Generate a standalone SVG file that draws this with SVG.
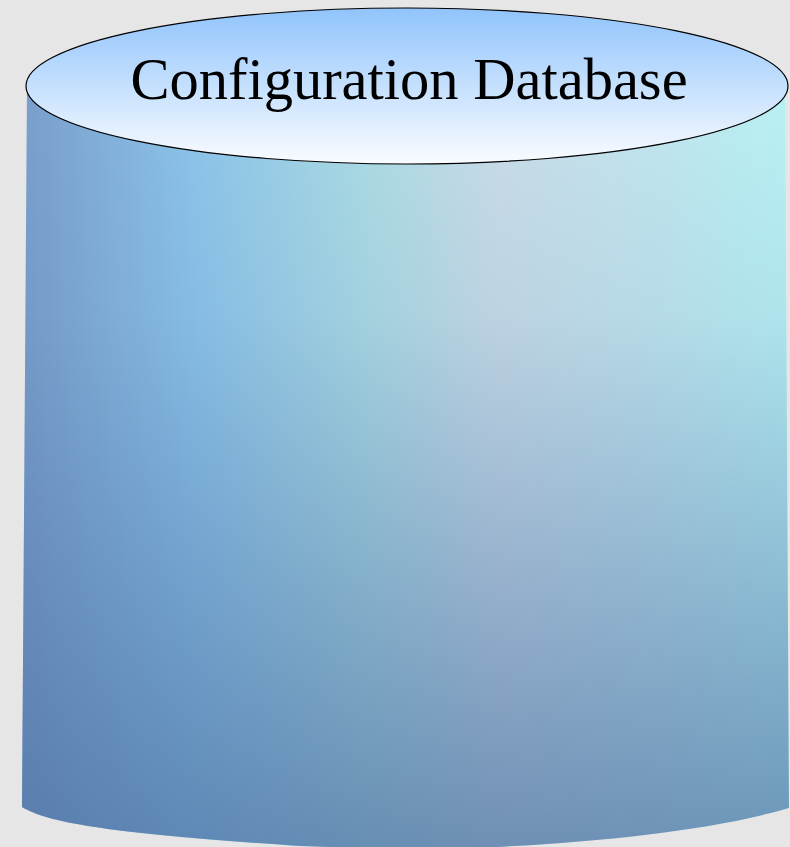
<svg xmlns="http://www.w3.org/2000/svg" width="790" height="847" viewBox="0 0 790 847">
  <defs>
    <linearGradient id="bodyH" x1="0" y1="0" x2="1" y2="0">
      <stop offset="0" stop-color="#7a9ecb"/>
      <stop offset="0.22" stop-color="#8cc4ea"/>
      <stop offset="0.45" stop-color="#acdce4"/>
      <stop offset="0.62" stop-color="#cadde8"/>
      <stop offset="0.82" stop-color="#c2e6ee"/>
      <stop offset="1" stop-color="#b8f2f4"/>
    </linearGradient>
    <linearGradient id="bodyV" x1="0" y1="0" x2="0" y2="1">
      <stop offset="0" stop-color="#4a70a8" stop-opacity="0"/>
      <stop offset="0.3" stop-color="#4a70a8" stop-opacity="0.1"/>
      <stop offset="1" stop-color="#4c70a0" stop-opacity="0.72"/>
    </linearGradient>
    <linearGradient id="topG" x1="0" y1="0" x2="0" y2="1">
      <stop offset="0" stop-color="#90c4fc"/>
      <stop offset="1" stop-color="#fafcff"/>
    </linearGradient>
  </defs>
  <style>
    .txt { font-family: "Liberation Serif", "Times New Roman", "DejaVu Serif", serif; font-size: 58.5px; fill: #000; }
  </style>
  <rect width="790" height="847" fill="#e6e6e6"/>
  <g id="config-database">
    <path id="body" d="M27,86 L22,807 C50,824 120,834 300,846 L420,850 C560,846 700,834 789,808 L785,86 Z" fill="url(#bodyH)"/>
    <path d="M27,86 L22,807 C50,824 120,834 300,846 L420,850 C560,846 700,834 789,808 L785,86 Z" fill="url(#bodyV)"/>
    <ellipse cx="407" cy="86" rx="381" ry="78" fill="url(#topG)" stroke="#000" stroke-width="1.2"/>
    <text class="txt" x="409" y="99" text-anchor="middle" font-family="Liberation Serif, serif">Configuration Database</text>
  </g>
</svg>
